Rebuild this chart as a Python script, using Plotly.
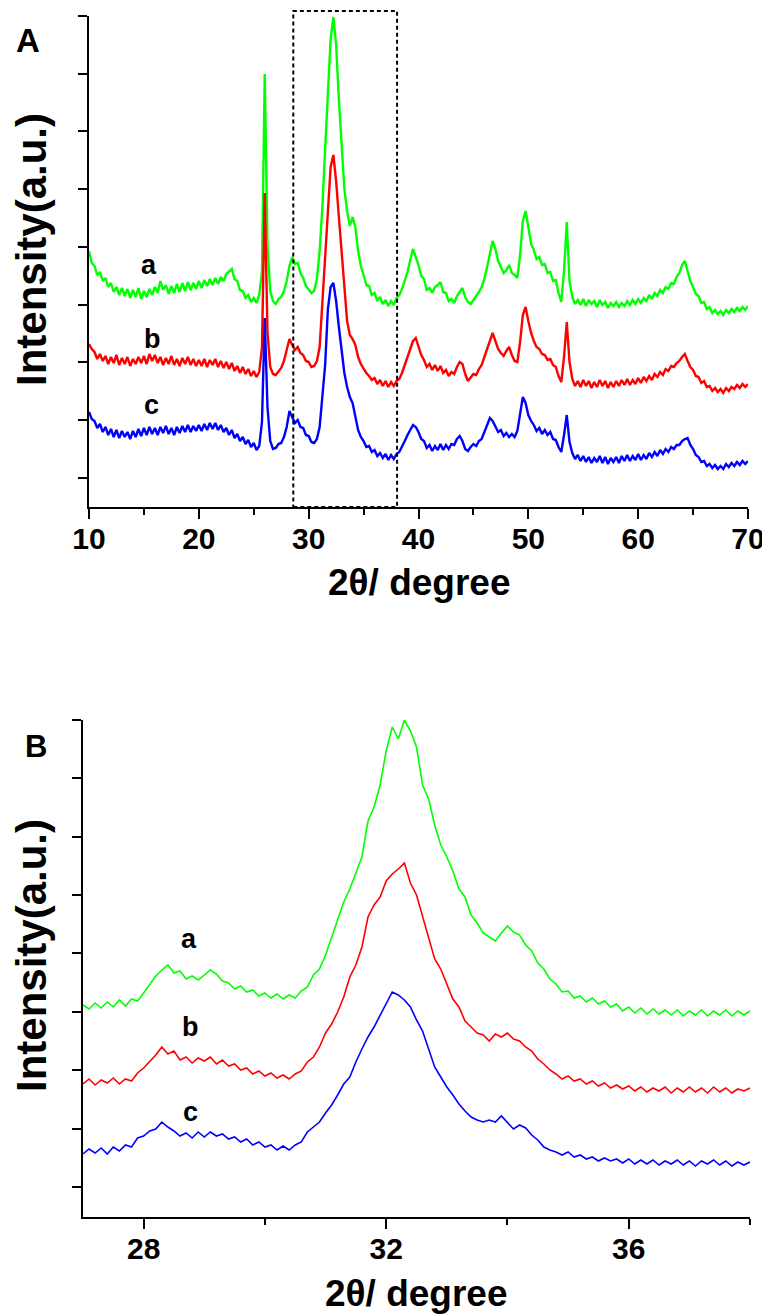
import numpy as np
import plotly.graph_objects as go

# ---------------- Panel A: full XRD pattern (2θ 10–70°, 0.25° steps) ----------------
two_theta_A = np.round(np.arange(10, 70.0001, 0.25), 2)

intensity_A_a = [
    256, 244, 241, 232, 235, 226, 229, 220, 224, 215, 220, 212, 219, 211, 218, 209, 217, 210, 219, 208,
    216, 210, 218, 212, 220, 214, 226, 217, 222, 213, 221, 214, 223, 215, 224, 216, 225, 217, 224, 218,
    226, 219, 227, 221, 228, 222, 229, 223, 230, 226, 233, 236, 238, 228, 226, 217, 216, 209, 212, 205,
    209, 204, 212, 236, 433, 262, 216, 206, 203, 208, 210, 216, 226, 241, 250, 243, 244, 234, 229, 221,
    218, 214, 216, 228, 256, 300, 358, 418, 468, 490, 462, 408, 358, 318, 296, 281, 290, 280, 256, 241,
    232, 222, 221, 212, 214, 206, 210, 203, 207, 201, 206, 202, 209, 212, 218, 226, 235, 247, 258, 250,
    242, 231, 228, 217, 219, 214, 220, 222, 225, 215, 214, 206, 208, 204, 211, 215, 219, 210, 205, 203,
    207, 210, 215, 220, 228, 240, 254, 266, 258, 246, 240, 234, 237, 242, 234, 232, 229, 252, 286, 296,
    280, 263, 257, 248, 250, 242, 243, 234, 235, 226, 227, 214, 205, 236, 285, 226, 210, 203, 207, 202,
    208, 201, 207, 203, 206, 200, 207, 202, 205, 199, 204, 201, 205, 200, 204, 201, 206, 202, 207, 203,
    208, 204, 209, 206, 212, 208, 214, 211, 217, 214, 220, 218, 224, 223, 230, 234, 242, 246, 236, 226,
    220, 213, 211, 204, 205, 198, 200, 194, 197, 193, 196, 192, 197, 194, 198, 195, 199, 196, 200, 197,
    201,
]

intensity_A_b = [
    163, 158, 155, 148, 153, 146, 151, 143, 150, 144, 152, 142, 149, 143, 150, 141, 148, 143, 150, 144,
    151, 143, 153, 146, 152, 144, 150, 142, 149, 143, 151, 142, 148, 141, 149, 143, 150, 142, 148, 141,
    147, 141, 148, 140, 147, 142, 148, 140, 146, 139, 145, 138, 144, 136, 141, 134, 140, 133, 138, 131,
    136, 130, 135, 160, 314, 175, 140, 133, 132, 136, 139, 146, 156, 168, 162, 157, 160, 154, 152, 146,
    145, 140, 141, 146, 160, 205, 252, 305, 340, 352, 326, 290, 255, 215, 186, 172, 168, 162, 150, 143,
    138, 134, 131, 127, 129, 123, 127, 121, 126, 120, 125, 121, 126, 128, 134, 142, 150, 158, 166, 169,
    160, 152, 147, 140, 143, 137, 142, 136, 141, 134, 137, 131, 135, 133, 140, 145, 143, 133, 126, 129,
    133, 132, 138, 142, 150, 158, 168, 174, 166, 158, 154, 151, 156, 160, 152, 146, 145, 165, 192, 200,
    186, 174, 166, 160, 158, 153, 152, 147, 148, 142, 140, 131, 125, 150, 185, 145, 128, 121, 126, 120,
    127, 121, 126, 119, 125, 120, 127, 121, 126, 119, 125, 120, 126, 121, 127, 122, 128, 122, 127, 123,
    129, 124, 130, 126, 131, 127, 133, 130, 135, 132, 138, 136, 141, 140, 144, 146, 150, 153, 146, 140,
    137, 131, 130, 124, 126, 120, 121, 116, 119, 115, 118, 114, 119, 116, 120, 118, 122, 119, 123, 120,
    123,
]

intensity_A_c = [
    95, 88, 86, 79, 83, 75, 80, 72, 78, 70, 77, 69, 76, 70, 75, 68, 76, 70, 78, 71,
    79, 72, 80, 73, 79, 72, 80, 74, 81, 73, 79, 72, 80, 74, 81, 75, 82, 75, 81, 76,
    82, 76, 83, 77, 84, 78, 84, 77, 82, 75, 79, 72, 77, 69, 73, 66, 70, 63, 67, 60,
    64, 57, 61, 85, 189, 100, 66, 58, 59, 63, 64, 70, 80, 96, 90, 84, 87, 80, 79, 72,
    71, 65, 64, 68, 80, 108, 142, 198, 220, 224, 206, 180, 158, 134, 120, 110, 104, 90, 77, 70,
    66, 60, 61, 55, 57, 51, 54, 49, 53, 47, 52, 48, 53, 55, 60, 66, 72, 77, 82, 80,
    75, 68, 66, 59, 62, 56, 61, 57, 63, 57, 62, 58, 63, 62, 68, 71, 66, 58, 56, 60,
    63, 61, 66, 68, 75, 82, 89, 86, 80, 75, 77, 71, 74, 70, 73, 70, 76, 92, 110, 104,
    92, 86, 82, 76, 79, 73, 77, 72, 75, 68, 67, 60, 55, 72, 92, 65, 54, 48, 52, 46,
    51, 45, 50, 44, 49, 45, 51, 44, 50, 43, 49, 45, 50, 44, 51, 46, 52, 46, 51, 47,
    53, 47, 52, 48, 54, 50, 55, 51, 57, 53, 58, 55, 60, 58, 62, 62, 66, 68, 69, 62,
    58, 52, 50, 45, 46, 41, 43, 39, 42, 38, 41, 38, 43, 40, 44, 41, 45, 42, 46, 43,
    46,
]

# ---------------- Panel B: zoom of 27–38° (0.1° steps) ----------------
two_theta_B = np.round(np.arange(27, 38.0001, 0.1), 2)

intensity_B_a = [
    212, 208, 214, 209, 215, 210, 217, 211, 218, 216,
    224, 233, 241, 247, 252, 244, 246, 238, 241, 237,
    242, 247, 243, 236, 234, 228, 231, 225, 227, 221,
    224, 219, 223, 218, 222, 219, 226, 230, 242, 248,
    262, 280, 298, 315, 328, 345, 360, 396, 410, 432,
    466, 490, 478, 497, 486, 470, 432, 418, 392, 372,
    360, 346, 328, 320, 302, 294, 284, 280, 276, 284,
    291, 285, 282, 272, 266, 254, 248, 238, 233, 225,
    226, 219, 221, 215, 219, 213, 216, 210, 213, 206,
    210, 204, 209, 203, 208, 203, 207, 202, 207, 201,
    206, 202, 207, 201, 206, 202, 207, 201, 206, 202,
    206,
]

intensity_B_b = [
    133, 138, 132, 137, 134, 139, 133, 138, 136, 144,
    149, 155, 162, 170, 163, 166, 157, 160, 154, 159,
    156, 160, 153, 157, 151, 153, 147, 149, 143, 146,
    141, 144, 139, 142, 138, 143, 146, 155, 160, 170,
    184, 193, 205, 220, 240, 252, 270, 300, 312, 320,
    336, 343, 348, 354, 334, 322, 300, 280, 258, 248,
    232, 218, 210, 196, 190, 184, 182, 176, 183, 180,
    184, 178, 176, 170, 166, 158, 153, 147, 143, 138,
    141, 136, 138, 133, 136, 131, 134, 129, 132, 128,
    131, 126, 130, 125, 129, 126, 130, 124, 129, 125,
    130, 125, 129, 124, 130, 125, 129, 124, 128, 126,
    129,
]

intensity_B_c = [
    63, 68, 64, 69, 63, 70, 66, 72, 70, 79,
    81, 86, 88, 95, 90, 86, 81, 84, 79, 85,
    80, 85, 81, 83, 78, 80, 75, 78, 72, 75,
    70, 72, 67, 71, 67, 72, 75, 85, 90, 95,
    104, 112, 122, 133, 140, 155, 168, 180, 190, 202,
    214, 225, 222, 217, 210, 197, 186, 168, 150, 140,
    130, 122, 113, 106, 100, 97, 95, 97, 95, 101,
    94, 88, 92, 89, 82, 77, 70, 67, 65, 62,
    65, 60, 62, 58, 60, 56, 59, 56, 58, 54,
    58, 53, 57, 53, 57, 52, 56, 53, 57, 52,
    56, 51, 56, 53, 57, 52, 56, 51, 55, 52,
    55,
]

sample_labels = ["a", "b", "c"]
colors = ["#00ff00", "#ff0000", "#0000ff"]

# label anchor positions (data coordinates)
label_pos_A = [(15.46, 242), (15.74, 168), (15.65, 102)]
label_pos_B = [(28.75, 278), (28.77, 190), (28.77, 105)]

# highlighted region on panel A
box_range = (28.6, 38.05)

# page body has an 8px margin: the figure is shifted by OFF, so size it to fit
OFF = 8
W, H = 770 - OFF, 1315 - OFF
FONT = "Liberation Sans, Arial, sans-serif"


def px_x(p):
    return (p - OFF) / W


def px_y(p):
    return 1 - (p - OFF) / H


xdomA = [px_x(89), px_x(748)]
ydomA = [px_y(507), px_y(16)]
xdomB = [px_x(83), px_x(750)]
ydomB = [px_y(1217), px_y(720)]

fig = go.Figure()

for ys, c in zip([intensity_A_a, intensity_A_b, intensity_A_c], colors):
    fig.add_trace(go.Scatter(x=two_theta_A, y=ys, mode="lines",
                             line=dict(color=c, width=2.4), xaxis="x", yaxis="y",
                             showlegend=False, hoverinfo="skip"))
for ys, c in zip([intensity_B_a, intensity_B_b, intensity_B_c], colors):
    fig.add_trace(go.Scatter(x=two_theta_B, y=ys, mode="lines",
                             line=dict(color=c, width=1.6), xaxis="x2", yaxis="y2",
                             showlegend=False, hoverinfo="skip"))

tickfont = dict(family=FONT, size=30, color="black", weight="bold")
common_axis = dict(showline=True, linecolor="black", linewidth=2, showgrid=False,
                   zeroline=False, ticks="outside", tickwidth=2, tickcolor="black",
                   automargin=False)

fig.update_layout(
    width=W, height=H,
    margin=dict(l=0, r=0, t=0, b=0, autoexpand=False),
    paper_bgcolor="white", plot_bgcolor="white",
    xaxis=dict(domain=xdomA, anchor="y", range=[10, 70],
               tickvals=[10, 20, 30, 40, 50, 60, 70], ticklen=10, tickfont=tickfont,
               ticklabelstandoff=-6,
               minor=dict(tickvals=[15, 25, 35, 45, 55, 65], ticks="outside",
                          ticklen=6, tickwidth=2, tickcolor="black", showgrid=False),
               **common_axis),
    yaxis=dict(domain=ydomA, anchor="x", range=[0, 491],
               tickvals=[29, 87, 145, 202, 260, 318, 376, 433, 491], ticklen=9,
               showticklabels=False, **common_axis),
    xaxis2=dict(domain=xdomB, anchor="y2", range=[27, 38],
                tickvals=[28, 32, 36], ticklen=10, tickfont=tickfont,
                ticklabelstandoff=-6,
                minor=dict(tickvals=[30, 34, 38], ticks="outside",
                           ticklen=6, tickwidth=2, tickcolor="black", showgrid=False),
                **common_axis),
    yaxis2=dict(domain=ydomB, anchor="x2", range=[0, 497],
                tickvals=[30, 88, 147, 205, 264, 322, 380, 439, 497], ticklen=9,
                showticklabels=False, **common_axis),
)


def xA_paper(v):
    return xdomA[0] + (v - 10) / 60 * (xdomA[1] - xdomA[0])


fig.add_shape(type="rect", xref="paper", yref="paper",
              x0=xA_paper(box_range[0]), x1=xA_paper(box_range[1]),
              y0=ydomA[0], y1=px_y(11),
              line=dict(color="black", width=2, dash="4px,3px"), fillcolor="rgba(0,0,0,0)")

ann = []
title_font = dict(family=FONT, size=37, color="black", weight="bold")
ytitle_font = dict(family=FONT, size=42, color="black", weight="bold")
# axis titles
ann.append(dict(text="2θ/ degree", xref="paper", yref="paper", x=px_x(419), y=px_y(583),
                showarrow=False, font=title_font, xanchor="center", yanchor="middle"))
ann.append(dict(text="2θ/ degree", xref="paper", yref="paper", x=px_x(416), y=px_y(1293),
                showarrow=False, font=title_font, xanchor="center", yanchor="middle"))
ann.append(dict(text="Intensity(a.u.)", xref="paper", yref="paper", x=px_x(31), y=px_y(250),
                showarrow=False, font=ytitle_font, textangle=-90, xanchor="center", yanchor="middle"))
ann.append(dict(text="Intensity(a.u.)", xref="paper", yref="paper", x=px_x(31), y=px_y(956),
                showarrow=False, font=ytitle_font, textangle=-90, xanchor="center", yanchor="middle"))
# panel letters
ann.append(dict(text="A", xref="paper", yref="paper", x=px_x(28), y=px_y(40), showarrow=False,
                font=dict(family=FONT, size=33, color="black", weight="bold"),
                xanchor="center", yanchor="middle"))
ann.append(dict(text="B", xref="paper", yref="paper", x=px_x(36), y=px_y(746), showarrow=False,
                font=dict(family=FONT, size=31, color="black", weight="bold"),
                xanchor="center", yanchor="middle"))
# curve labels
lab_font = dict(family=FONT, size=27, color="black", weight="bold")
for lab, (lx, ly) in zip(sample_labels, label_pos_A):
    ann.append(dict(text=lab, x=lx, y=ly, xref="x", yref="y", showarrow=False, font=lab_font,
                    xanchor="center", yanchor="middle"))
for lab, (lx, ly) in zip(sample_labels, label_pos_B):
    ann.append(dict(text=lab, x=lx, y=ly, xref="x2", yref="y2", showarrow=False, font=lab_font,
                    xanchor="center", yanchor="middle"))
fig.update_layout(annotations=ann)

fig.write_html("out.html")
